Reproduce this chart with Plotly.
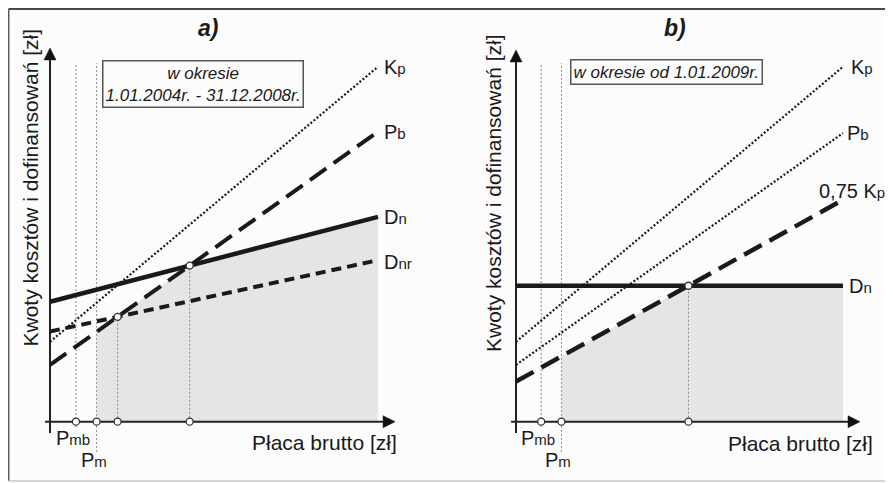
import numpy as np
import plotly.graph_objects as go

# ---------------- data (conceptual units) ----------------
x_span = [0, 10]                 # start / end of every line

# panel a) 1.01.2004 - 31.12.2008
a_kp = [2.25, 10.0]
a_pb = [1.60, 8.17]
a_dn = [3.38, 5.77]
a_dnr = [2.54, 4.55]
a_pmb = 0.79
a_pm = 1.42

# panel b) od 1.01.2009
b_kp = [2.25, 10.0]
b_pb = [1.60, 8.13]
b_k75 = [1.13, 6.25]
b_dn = [3.83, 3.83]
b_pmb = 0.77
b_pm = 1.39

panel_titles = ["a)", "b)"]
box_texts = ["w okresie<br>1.01.2004r. - 31.12.2008r.", "w okresie od 1.01.2009r."]
y_title = "Kwoty kosztów i dofinansowań [zł]"
x_title = "Płaca brutto [zł]"

# ---------------- helpers ----------------
INK = "#1a1a1a"
FONT = "Liberation Sans, Arial, sans-serif"
SUB = 15
OFF = 8                      # the page places the figure 8px from the window edge
W, H = 893 - OFF, 483 - OFF


def lab(main, sub):
    return f"{main}<span style='font-size:{SUB}px'>{sub}</span>"


def val(line, x):
    return float(np.interp(x, x_span, line))


def intersect(l1, l2):
    m1 = (l1[1] - l1[0]) / (x_span[1] - x_span[0])
    m2 = (l2[1] - l2[0]) / (x_span[1] - x_span[0])
    xi = (l2[0] - l1[0]) / (m1 - m2)
    return xi, l1[0] + m1 * xi


def px(x):
    return (x - OFF) / W


def py(y):
    return 1 - (y - OFF) / H


fig = go.Figure()
annotations = []
shapes = []

Y_LO, Y_HI = -1.727, 11.654
panels = [
    dict(xr="x", yr="y", xrange=[-1.2805, 12.210], dom=[0, 0.5]),
    dict(xr="x2", yr="y2", xrange=[-2.003, 11.529], dom=[0.5, 1]),
]
Y_PX = H / (Y_HI - Y_LO)     # pixels per y unit


def add_line(p, xs, ys, width, dash, color=INK):
    fig.add_trace(go.Scatter(x=xs, y=ys, mode="lines", xaxis=p["xr"], yaxis=p["yr"],
                             line=dict(color=color, width=width, dash=dash),
                             hoverinfo="skip", showlegend=False))


def add_shade(p, low, high, x_start):
    xi, _ = intersect(low, high)
    xs = sorted({x_start, x_span[1]} | ({xi} if x_start < xi < x_span[1] else set()))
    ys = [min(val(low, x), val(high, x)) for x in xs]
    fig.add_trace(go.Scatter(x=xs, y=ys, mode="lines", fill="tozeroy",
                             fillcolor="#e5e5e5", line=dict(width=0),
                             xaxis=p["xr"], yaxis=p["yr"], hoverinfo="skip", showlegend=False))


def add_vline(p, x, y0, y1):
    add_line(p, [x, x], [y0, y1], 1, "2px,2px", "#8a8a8a")


def add_circles(p, xs, ys):
    fig.add_trace(go.Scatter(x=xs, y=ys, mode="markers", xaxis=p["xr"], yaxis=p["yr"],
                             marker=dict(symbol="circle", size=7, color="white",
                                         line=dict(color="#333", width=1.3)),
                             hoverinfo="skip", showlegend=False))


def axes_arrows(p, ytip, xtip):
    xr = p["xrange"]
    dom = p["dom"]
    x_px = W * (dom[1] - dom[0]) / (xr[1] - xr[0])   # pixels per x unit
    hl, hw = 12, 6                                    # arrow head length / half width (px)
    add_line(p, [0, 0], [-0.32, ytip - hl / Y_PX], 2, "solid", "#222")
    add_line(p, [-0.15, xtip - hl / x_px], [0, 0], 2, "solid", "#222")
    heads = [
        ([0, -hw / x_px, hw / x_px, 0], [ytip, ytip - hl / Y_PX, ytip - hl / Y_PX, ytip]),
        ([xtip, xtip - hl / x_px, xtip - hl / x_px, xtip], [0, hw / Y_PX, -hw / Y_PX, 0]),
    ]
    for hx, hy in heads:
        fig.add_trace(go.Scatter(x=hx, y=hy, mode="lines", fill="toself", fillcolor="#111",
                                 line=dict(color="#111", width=0.5), xaxis=p["xr"], yaxis=p["yr"],
                                 hoverinfo="skip", showlegend=False))


def end_label(p, line, text, xshift=4, yshift=0):
    annotations.append(dict(x=x_span[1], y=line[1], xref=p["xr"], yref=p["yr"], text=text,
                            showarrow=False, xanchor="left", yanchor="middle",
                            xshift=xshift, yshift=yshift,
                            font=dict(family=FONT, size=20, color=INK)))


def p_labels(p, pmb, pm):
    annotations.append(dict(x=pmb, y=0, xref=p["xr"], yref=p["yr"], text=lab("P", "mb"),
                            showarrow=False, xanchor="center", yanchor="middle",
                            xshift=-3, yshift=-16, font=dict(family=FONT, size=20, color=INK)))
    annotations.append(dict(x=pm, y=0, xref=p["xr"], yref=p["yr"], text=lab("P", "m"),
                            showarrow=False, xanchor="center", yanchor="middle",
                            xshift=-3, yshift=-38, font=dict(family=FONT, size=20, color=INK)))


# ---------------- panel a ----------------
pa = panels[0]
add_shade(pa, a_pb, a_dn, a_pm)
xi1, yi1 = intersect(a_pb, a_dnr)
xi2, yi2 = intersect(a_pb, a_dn)
add_vline(pa, a_pmb, -0.15, 10.1)
add_vline(pa, a_pm, -0.85, 10.1)
add_vline(pa, xi1, 0, yi1)
add_vline(pa, xi2, 0, yi2)
axes_arrows(pa, 10.53, 10.52)
add_line(pa, x_span, a_kp, 2.2, "2px,2px")
add_line(pa, x_span, a_dnr, 4, "10px,6px")
add_line(pa, x_span, a_pb, 4, "20px,9px")
add_line(pa, x_span, a_dn, 4.5, "solid")
add_circles(pa, [a_pmb, a_pm, xi1, xi2, xi1, xi2], [0, 0, 0, 0, yi1, yi2])
end_label(pa, a_kp, lab("K", "p"))
end_label(pa, a_pb, lab("P", "b"))
end_label(pa, a_dn, lab("D", "n"))
end_label(pa, a_dnr, lab("D", "nr"), yshift=-2)
p_labels(pa, a_pmb, a_pm)

# ---------------- panel b ----------------
pb = panels[1]
add_shade(pb, b_k75, b_dn, b_pm)
xi3, yi3 = intersect(b_k75, b_dn)
add_vline(pb, b_pmb, -0.15, 10.1)
add_vline(pb, b_pm, -0.85, 10.1)
add_vline(pb, xi3, 0, yi3)
axes_arrows(pb, 10.47, 10.52)
add_line(pb, x_span, b_kp, 2.2, "2px,2px")
add_line(pb, x_span, b_pb, 2.2, "2px,2px")
add_line(pb, x_span, b_k75, 4.5, "20px,9px")
add_line(pb, x_span, b_dn, 4.5, "solid")
add_circles(pb, [b_pmb, b_pm, xi3, xi3], [0, 0, 0, yi3])
end_label(pb, b_kp, lab("K", "p"), xshift=6)
end_label(pb, b_pb, lab("P", "b"), xshift=2)
end_label(pb, b_dn, lab("D", "n"))
annotations.append(dict(x=x_span[1], y=b_k75[1], xref="x2", yref="y2",
                        text="0,75 " + lab("K", "p"), showarrow=False,
                        xanchor="center", yanchor="middle", xshift=9, yshift=9,
                        font=dict(family=FONT, size=20, color=INK)))
p_labels(pb, b_pmb, b_pm)

# ---------------- titles, boxes, axis titles (paper) ----------------
for t, cx in zip(panel_titles, [208, 675]):
    annotations.append(dict(x=px(cx), y=py(28), xref="paper", yref="paper", text=f"<b><i>{t}</i></b>",
                            showarrow=False, xanchor="center", yanchor="middle",
                            font=dict(family=FONT, size=23, color=INK)))
for t, cx, cy in zip(box_texts, [203, 666.5], [84.5, 72]):
    annotations.append(dict(x=px(cx), y=py(cy), xref="paper", yref="paper", text=f"<i>{t}</i>",
                            showarrow=False, xanchor="center", yanchor="middle",
                            bordercolor="#555", borderwidth=1.5, borderpad=2, bgcolor="#fcfcfc",
                            font=dict(family=FONT, size=17, color=INK)))
for cx, cy in [(30, 188.5), (493, 193)]:
    annotations.append(dict(x=px(cx), y=py(cy), xref="paper", yref="paper", text=y_title,
                            textangle=-90, showarrow=False, xanchor="center", yanchor="middle",
                            font=dict(family=FONT, size=21, color=INK)))
for cx, cy in [(324.5, 442), (800.5, 443)]:
    annotations.append(dict(x=px(cx), y=py(cy), xref="paper", yref="paper", text=x_title,
                            showarrow=False, xanchor="center", yanchor="middle",
                            font=dict(family=FONT, size=21, color=INK)))

# frame
shapes.append(dict(type="line", xref="paper", yref="paper", x0=px(8.5), x1=1.01, y0=py(9),
                   y1=py(9), line=dict(color="#4a4a4a", width=2), layer="below"))
shapes.append(dict(type="line", xref="paper", yref="paper", x0=px(8.7), x1=px(8.7), y0=py(481),
                   y1=py(9), line=dict(color="#5a5a5a", width=1.5), layer="below"))
shapes.append(dict(type="line", xref="paper", yref="paper", x0=px(8.5), x1=1.01, y0=py(481),
                   y1=py(481), line=dict(color="#c8c8c8", width=1.5), layer="below"))

ax_common = dict(visible=False, showgrid=False, zeroline=False, fixedrange=True)
fig.update_layout(
    width=W, height=H, autosize=False,
    margin=dict(l=0, r=0, t=0, b=0),
    paper_bgcolor="#fcfcfc", plot_bgcolor="rgba(0,0,0,0)",
    showlegend=False,
    xaxis=dict(domain=panels[0]["dom"], range=panels[0]["xrange"], anchor="y", **ax_common),
    xaxis2=dict(domain=panels[1]["dom"], range=panels[1]["xrange"], anchor="y2", **ax_common),
    yaxis=dict(domain=[0, 1], range=[Y_LO, Y_HI], anchor="x", **ax_common),
    yaxis2=dict(domain=[0, 1], range=[Y_LO, Y_HI], anchor="x2", **ax_common),
    annotations=annotations, shapes=shapes,
)

fig.write_html("out.html")
